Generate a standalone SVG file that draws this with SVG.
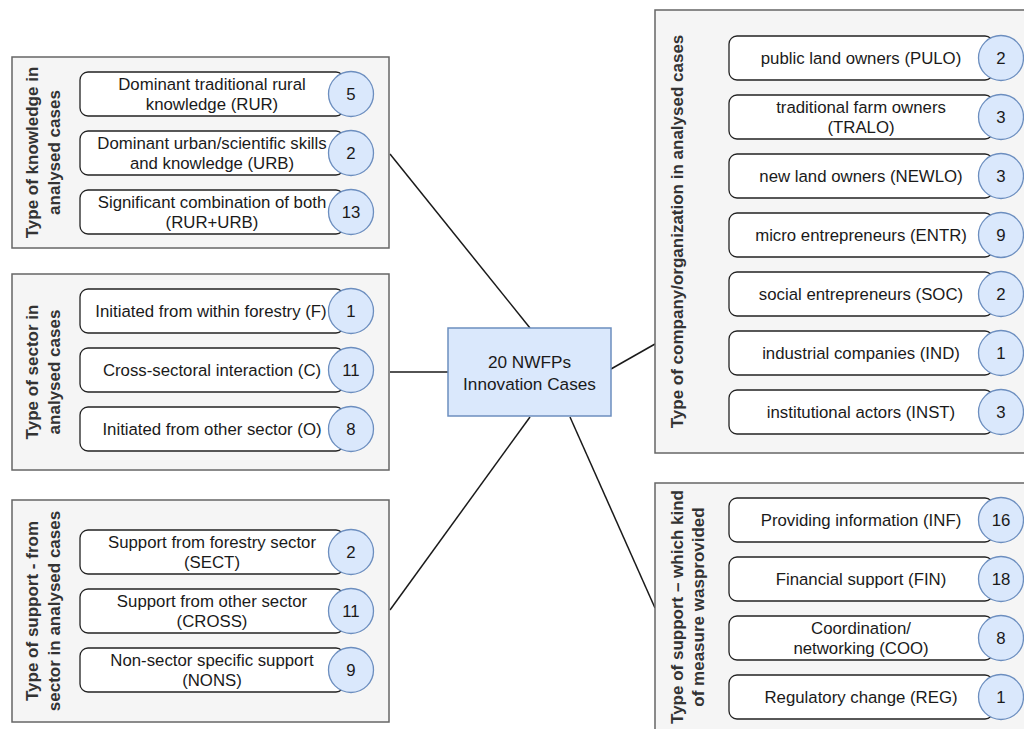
<svg xmlns="http://www.w3.org/2000/svg" width="1024" height="729" viewBox="0 0 1024 729">
<style>
.cont{fill:#f5f5f5;stroke:#666;stroke-width:1.5}
.item{fill:#fff;stroke:#222;stroke-width:1.3}
.num{fill:#dae8fc;stroke:#6c8ebf;stroke-width:1.3}
.t{font-family:"Liberation Sans",Arial,sans-serif;font-size:16.8px;fill:#1a1a1a;text-anchor:middle}
.title{font-family:"Liberation Sans",Arial,sans-serif;font-size:17px;font-weight:bold;fill:#333;text-anchor:middle}
.conn{stroke:#1a1a1a;stroke-width:1.5;fill:none}
.center{fill:#dae8fc;stroke:#6c8ebf;stroke-width:1.5}
</style>
<rect width="1024" height="729" fill="#fff"/>
<g id="connectors">
<line class="conn" x1="530" y1="328" x2="390" y2="154"/>
<line class="conn" x1="448" y1="372" x2="390" y2="372"/>
<line class="conn" x1="530" y1="417" x2="390" y2="610"/>
<line class="conn" x1="611" y1="369" x2="655" y2="344"/>
<line class="conn" x1="570" y1="417" x2="655" y2="608"/>
</g>
<g id="center-node">
<rect class="center" x="448" y="328" width="163" height="88"/>
<text class="t" style="font-size:17.2px" x="529.5" y="368">20 NWFPs</text>
<text class="t" style="font-size:17.2px" x="529.5" y="390">Innovation Cases</text>
</g>
<g id="knowledge">
<rect class="cont" x="12" y="57" width="377" height="191"/>
<text class="title" transform="translate(38,152.5) rotate(-90)"><tspan x="0" y="0">Type of knowledge in</tspan><tspan x="0" y="22">analysed cases</tspan></text>
<g id="rur"><rect class="item" x="80" y="72" width="264" height="44" rx="8"/><text class="t" x="212" y="90">Dominant traditional rural</text><text class="t" x="212" y="110">knowledge (RUR)</text><circle class="num" cx="351" cy="94" r="22.5"/><text class="t" x="351" y="100">5</text></g>
<g id="urb"><rect class="item" x="80" y="131" width="264" height="44" rx="8"/><text class="t" x="212" y="149">Dominant urban/scientific skills</text><text class="t" x="212" y="169">and knowledge (URB)</text><circle class="num" cx="351" cy="153" r="22.5"/><text class="t" x="351" y="159">2</text></g>
<g id="rururb"><rect class="item" x="80" y="190" width="264" height="44" rx="8"/><text class="t" x="212" y="208">Significant combination of both</text><text class="t" x="212" y="228">(RUR+URB)</text><circle class="num" cx="351" cy="212" r="22.5"/><text class="t" x="351" y="218">13</text></g>
</g>
<g id="sector">
<rect class="cont" x="12" y="274" width="377" height="196"/>
<text class="title" transform="translate(38,372) rotate(-90)"><tspan x="0" y="0">Type of sector in</tspan><tspan x="0" y="22">analysed cases</tspan></text>
<g id="f"><rect class="item" x="80" y="289" width="264" height="44" rx="8"/><text class="t" x="211" y="317">Initiated from within forestry (F)</text><circle class="num" cx="351" cy="311" r="22.5"/><text class="t" x="351" y="317">1</text></g>
<g id="c"><rect class="item" x="80" y="348" width="264" height="44" rx="8"/><text class="t" x="212" y="376">Cross-sectoral interaction (C)</text><circle class="num" cx="351" cy="370" r="22.5"/><text class="t" x="351" y="376">11</text></g>
<g id="o"><rect class="item" x="80" y="407" width="264" height="44" rx="8"/><text class="t" x="212" y="435">Initiated from other sector (O)</text><circle class="num" cx="351" cy="429" r="22.5"/><text class="t" x="351" y="435">8</text></g>
</g>
<g id="support-sector">
<rect class="cont" x="12" y="500" width="377" height="222"/>
<text class="title" transform="translate(38,611) rotate(-90)"><tspan x="0" y="0">Type of support - from</tspan><tspan x="0" y="22">sector in analysed cases</tspan></text>
<g id="sect"><rect class="item" x="80" y="530" width="264" height="44" rx="8"/><text class="t" x="212" y="548">Support from forestry sector</text><text class="t" x="212" y="568">(SECT)</text><circle class="num" cx="351" cy="552" r="22.5"/><text class="t" x="351" y="558">2</text></g>
<g id="cross"><rect class="item" x="80" y="589" width="264" height="44" rx="8"/><text class="t" x="212" y="607">Support from other sector</text><text class="t" x="212" y="627">(CROSS)</text><circle class="num" cx="351" cy="611" r="22.5"/><text class="t" x="351" y="617">11</text></g>
<g id="nons"><rect class="item" x="80" y="648" width="264" height="44" rx="8"/><text class="t" x="212" y="666">Non-sector specific support</text><text class="t" x="212" y="686">(NONS)</text><circle class="num" cx="351" cy="670" r="22.5"/><text class="t" x="351" y="676">9</text></g>
</g>
<g id="company">
<rect class="cont" x="655" y="10" width="400" height="443"/>
<text class="title" transform="translate(683,231.5) rotate(-90)"><tspan x="0" y="0">Type of company/organization in analysed cases</tspan></text>
<g id="pulo"><rect class="item" x="729" y="36" width="264" height="44" rx="8"/><text class="t" x="861" y="64">public land owners (PULO)</text><circle class="num" cx="1001" cy="58" r="22.5"/><text class="t" x="1001" y="64">2</text></g>
<g id="tralo"><rect class="item" x="729" y="95" width="264" height="44" rx="8"/><text class="t" x="861" y="113">traditional farm owners</text><text class="t" x="861" y="133">(TRALO)</text><circle class="num" cx="1001" cy="117" r="22.5"/><text class="t" x="1001" y="123">3</text></g>
<g id="newlo"><rect class="item" x="729" y="154" width="264" height="44" rx="8"/><text class="t" x="861" y="182">new land owners (NEWLO)</text><circle class="num" cx="1001" cy="176" r="22.5"/><text class="t" x="1001" y="182">3</text></g>
<g id="entr"><rect class="item" x="729" y="213" width="264" height="44" rx="8"/><text class="t" x="861" y="241">micro entrepreneurs (ENTR)</text><circle class="num" cx="1001" cy="235" r="22.5"/><text class="t" x="1001" y="241">9</text></g>
<g id="soc"><rect class="item" x="729" y="272" width="264" height="44" rx="8"/><text class="t" x="861" y="300">social entrepreneurs (SOC)</text><circle class="num" cx="1001" cy="294" r="22.5"/><text class="t" x="1001" y="300">2</text></g>
<g id="ind"><rect class="item" x="729" y="331" width="264" height="44" rx="8"/><text class="t" x="861" y="359">industrial companies (IND)</text><circle class="num" cx="1001" cy="353" r="22.5"/><text class="t" x="1001" y="359">1</text></g>
<g id="inst"><rect class="item" x="729" y="390" width="264" height="44" rx="8"/><text class="t" x="861" y="418">institutional actors (INST)</text><circle class="num" cx="1001" cy="412" r="22.5"/><text class="t" x="1001" y="418">3</text></g>
</g>
<g id="support-measure">
<rect class="cont" x="655" y="483" width="400" height="260"/>
<text class="title" transform="translate(683,607) rotate(-90)"><tspan x="0" y="0">Type of support – which kind</tspan><tspan x="0" y="21">of measure wasprovided</tspan></text>
<g id="inf"><rect class="item" x="729" y="498" width="264" height="44" rx="8"/><text class="t" x="861" y="526">Providing information (INF)</text><circle class="num" cx="1001" cy="520" r="22.5"/><text class="t" x="1001" y="526">16</text></g>
<g id="fin"><rect class="item" x="729" y="557" width="264" height="44" rx="8"/><text class="t" x="861" y="585">Financial support (FIN)</text><circle class="num" cx="1001" cy="579" r="22.5"/><text class="t" x="1001" y="585">18</text></g>
<g id="coo"><rect class="item" x="729" y="616" width="264" height="44" rx="8"/><text class="t" x="861" y="634">Coordination/</text><text class="t" x="861" y="654">networking (COO)</text><circle class="num" cx="1001" cy="638" r="22.5"/><text class="t" x="1001" y="644">8</text></g>
<g id="reg"><rect class="item" x="729" y="675" width="264" height="44" rx="8"/><text class="t" x="861" y="703">Regulatory change (REG)</text><circle class="num" cx="1001" cy="697" r="22.5"/><text class="t" x="1001" y="703">1</text></g>
</g>
</svg>
